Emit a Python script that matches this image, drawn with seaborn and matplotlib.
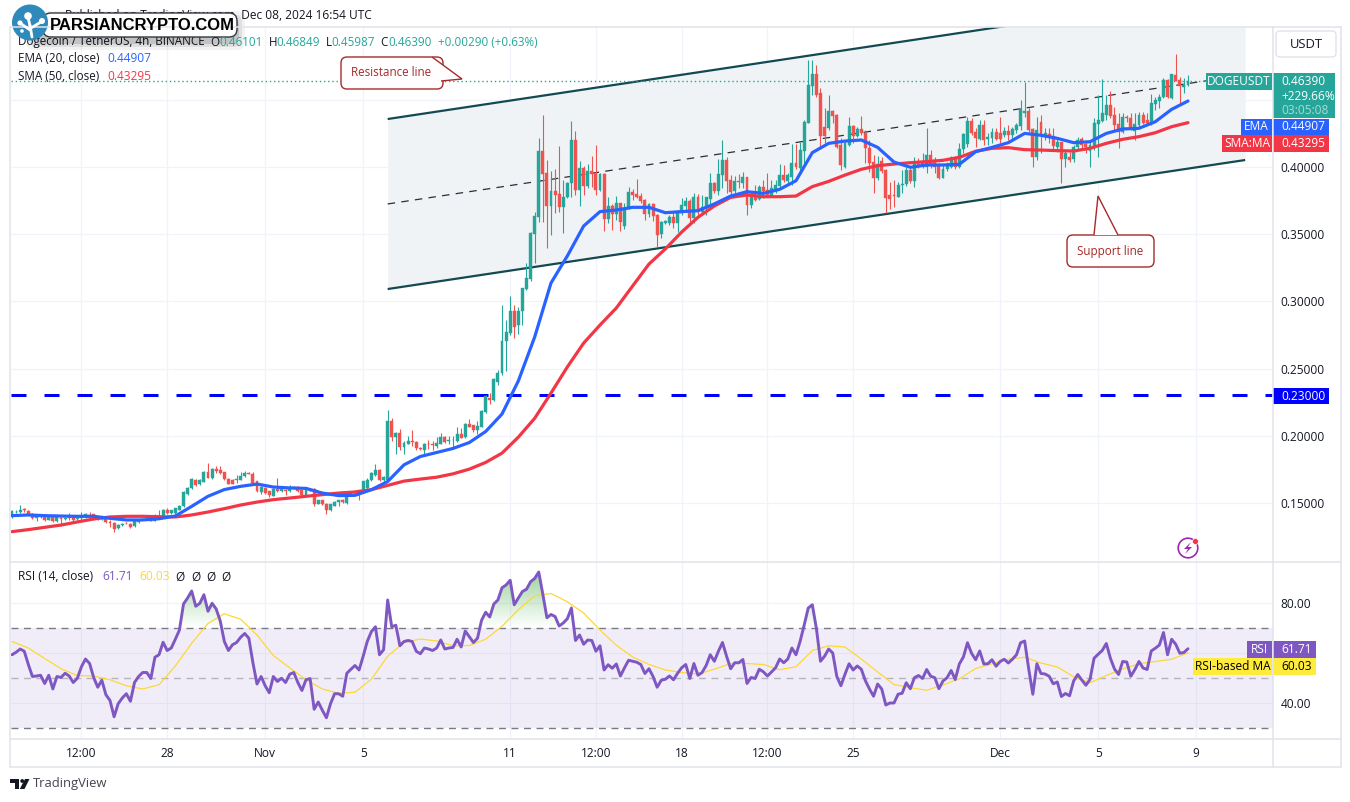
import numpy as np
import pandas as pd
import seaborn as sns
import matplotlib.pyplot as plt
from matplotlib.patches import Circle, FancyBboxPatch, PathPatch, Polygon, Rectangle
from matplotlib.path import Path

# candles, in thousandths of a USDT, one every 4h from 2024-10-21 16:00
opens_milli = [
    139.3, 143.1, 143.1, 145.5, 144.0, 142.1, 138.6, 139.6, 139.3, 137.6,
    140.1, 136.4, 138.8, 138.1, 139.6, 139.6, 138.1, 138.6, 139.6, 141.3,
    141.6, 139.6, 138.1, 139.1, 136.1, 135.1, 131.2, 133.6, 135.1, 134.6,
    132.6, 135.6, 137.4, 137.6, 136.9, 136.9, 140.1, 140.6, 144.5, 142.6,
    142.6, 145.0, 147.5, 156.9, 160.9, 166.9, 163.9, 165.9, 172.8, 168.6,
    175.3, 174.8, 172.8, 168.1, 167.4, 166.9, 167.4, 169.8, 172.6, 171.3,
    166.1, 157.9, 161.2, 158.7, 155.5, 160.4, 158.7, 159.9, 158.7, 160.9,
    161.9, 159.4, 156.2, 159.9, 160.4, 149.5, 152.0, 149.5, 144.5, 148.0,
    151.0, 152.5, 150.0, 158.4, 158.7, 159.4, 157.9, 160.9, 166.9, 170.8,
    174.8, 166.9, 167.3, 210.9, 198.8, 202.0, 191.3, 194.0, 196.0, 195.5,
    191.1, 189.6, 194.0, 194.0, 192.6, 194.0, 199.0, 196.5, 196.8, 196.0,
    201.5, 198.8, 208.9, 207.7, 204.5, 206.9, 217.9, 228.0, 226.3, 240.4,
    246.6, 270.2, 276.4, 293.0, 282.1, 292.5, 309.6, 317.0, 350.2, 363.0,
    411.9, 395.3, 371.0, 382.4, 379.7, 370.0, 377.4, 387.8, 420.1, 382.9,
    399.0, 385.9, 397.3, 395.8, 382.9, 394.8, 361.3, 371.0, 365.0, 373.0,
    356.1, 369.2, 381.2, 379.9, 378.4, 375.4, 365.0, 372.5, 364.3, 350.2,
    358.1, 358.6, 363.0, 358.1, 365.5, 371.0, 374.7, 361.8, 377.4, 366.3,
    370.0, 375.9, 388.3, 382.4, 393.8, 405.2, 390.3, 381.9, 389.6, 387.8,
    392.3, 371.7, 377.4, 376.0, 384.9, 382.9, 378.7, 383.4, 385.9, 394.0,
    389.8, 392.8, 402.7, 399.0, 412.2, 433.0, 460.3, 469.2, 454.8, 429.5,
    428.8, 441.9, 438.7, 416.4, 400.2, 416.4, 430.5, 423.1, 428.3, 425.5,
    413.9, 404.0, 391.6, 404.7, 397.8, 379.2, 379.2, 377.9, 386.9, 387.1,
    397.8, 389.8, 402.2, 401.5, 400.2, 408.7, 405.2, 401.5, 392.1, 398.3,
    400.2, 406.4, 400.2, 413.1, 417.1, 434.2, 426.3, 420.6, 431.2, 421.1,
    421.3, 425.8, 425.0, 423.8, 426.8, 423.8, 427.5, 430.5, 439.9, 441.7,
    428.3, 407.2, 433.7, 422.6, 424.6, 423.1, 415.1, 418.4, 405.7, 407.7,
    405.7, 414.6, 420.6, 417.1, 412.2, 415.1, 432.0, 434.5, 438.7, 446.1,
    438.7, 432.0, 426.3, 437.0, 436.2, 427.0, 431.2, 438.7, 435.0, 432.0,
    446.9, 449.4, 451.8, 464.7, 451.1, 468.4, 464.7, 459.8, 461.0,
]
highs_milli = [
    144.5, 145.0, 148.5, 146.5, 144.5, 142.6, 141.6, 141.1, 140.1, 140.6,
    140.6, 140.1, 139.6, 139.6, 142.6, 141.1, 139.6, 143.6, 142.6, 143.6,
    142.1, 140.1, 139.6, 139.6, 137.6, 135.6, 134.1, 135.1, 135.6, 135.1,
    138.1, 138.1, 138.6, 138.4, 138.6, 141.6, 144.5, 145.5, 146.5, 145.0,
    146.5, 148.5, 159.0, 162.0, 168.4, 168.0, 167.9, 173.6, 179.8, 176.0,
    177.3, 177.8, 173.3, 168.4, 167.9, 171.1, 173.1, 173.6, 173.1, 172.8,
    166.4, 162.4, 161.9, 159.2, 160.9, 168.8, 162.9, 160.4, 163.4, 162.4,
    162.4, 159.9, 160.9, 161.1, 160.9, 152.5, 152.5, 150.0, 149.5, 151.5,
    152.5, 153.0, 158.4, 159.0, 159.2, 159.9, 166.6, 168.4, 172.8, 179.3,
    175.3, 170.3, 219.3, 213.1, 203.2, 205.0, 195.8, 200.0, 204.5, 196.0,
    191.6, 195.0, 197.0, 195.8, 199.0, 202.0, 199.5, 199.5, 199.5, 206.4,
    205.7, 209.9, 212.4, 208.2, 210.9, 219.3, 230.5, 231.7, 242.9, 249.1,
    297.2, 286.3, 303.7, 297.5, 295.5, 310.1, 328.5, 352.0, 366.8, 421.3,
    438.7, 405.2, 397.0, 398.5, 415.6, 390.3, 388.8, 434.2, 426.5, 404.5,
    401.0, 402.0, 408.2, 416.4, 395.8, 395.3, 377.4, 372.5, 378.4, 373.5,
    373.5, 385.4, 383.4, 390.8, 380.9, 375.9, 373.5, 373.0, 364.8, 360.1,
    360.6, 364.3, 366.8, 368.0, 376.7, 377.4, 375.9, 380.4, 379.9, 379.2,
    377.9, 395.3, 389.1, 406.0, 420.1, 407.7, 394.0, 393.3, 394.8, 396.5,
    392.8, 380.4, 386.6, 386.6, 390.3, 395.3, 390.3, 390.3, 402.2, 401.5,
    395.3, 417.1, 417.1, 418.8, 435.0, 479.6, 479.6, 475.9, 458.5, 443.6,
    453.6, 442.4, 439.2, 421.3, 420.1, 437.4, 431.0, 430.0, 437.9, 427.5,
    420.1, 408.9, 408.2, 407.7, 398.3, 389.1, 390.3, 389.1, 397.8, 400.2,
    399.0, 407.7, 406.4, 410.2, 428.8, 412.6, 407.7, 402.7, 401.5, 404.0,
    408.2, 408.2, 417.6, 425.0, 437.4, 436.7, 428.8, 435.0, 435.0, 425.0,
    428.8, 428.8, 437.4, 430.0, 431.2, 429.5, 433.0, 449.8, 463.5, 443.6,
    428.8, 437.4, 438.7, 428.8, 428.8, 428.8, 421.3, 418.8, 412.6, 411.4,
    416.4, 422.1, 422.6, 418.8, 420.1, 436.2, 453.6, 465.2, 453.6, 456.8,
    444.9, 439.9, 439.9, 438.7, 440.4, 439.9, 441.2, 441.2, 440.4, 454.3,
    452.3, 454.3, 466.0, 465.2, 469.2, 484.1, 467.2, 466.0, 468.5,
]
lows_milli = [
    138.6, 142.6, 142.6, 143.6, 140.8, 138.0, 136.4, 139.1, 136.9, 137.1,
    136.0, 136.0, 133.1, 137.6, 137.6, 136.4, 137.1, 137.6, 138.8, 139.6,
    138.1, 137.6, 137.6, 135.1, 132.1, 128.2, 130.7, 133.1, 134.6, 131.6,
    132.1, 135.1, 137.1, 137.4, 136.4, 136.4, 138.6, 140.1, 142.1, 142.1,
    142.1, 144.5, 147.0, 156.0, 160.4, 163.0, 163.4, 165.4, 168.4, 168.1,
    172.3, 171.8, 167.4, 163.9, 163.9, 164.9, 166.9, 169.3, 171.3, 164.4,
    158.2, 156.4, 156.9, 154.5, 155.0, 158.4, 157.9, 156.2, 158.4, 160.4,
    158.2, 155.7, 155.7, 158.7, 148.0, 149.0, 148.5, 142.1, 144.0, 147.5,
    148.0, 150.0, 149.5, 156.4, 156.9, 152.0, 157.4, 160.4, 166.4, 170.3,
    166.4, 166.4, 167.0, 195.8, 186.6, 189.1, 186.6, 193.6, 192.6, 189.6,
    189.6, 185.1, 190.1, 189.6, 190.6, 193.6, 195.0, 194.0, 190.8, 195.5,
    198.0, 198.3, 206.4, 203.2, 201.0, 206.4, 216.9, 223.8, 225.8, 237.9,
    244.9, 247.9, 275.1, 272.7, 275.9, 282.6, 308.6, 315.0, 328.3, 359.3,
    359.3, 339.5, 349.4, 365.5, 366.8, 351.1, 376.9, 377.9, 379.2, 371.0,
    379.2, 384.1, 385.4, 379.2, 382.4, 352.6, 358.1, 353.1, 360.6, 352.6,
    353.6, 368.8, 375.4, 376.7, 373.5, 360.6, 363.0, 360.1, 340.2, 347.4,
    357.6, 356.8, 354.4, 351.9, 364.3, 366.8, 359.3, 358.6, 364.3, 364.3,
    364.3, 370.5, 380.9, 379.2, 384.1, 380.4, 379.2, 380.4, 384.1, 384.1,
    364.3, 369.2, 374.9, 375.4, 376.7, 377.4, 377.9, 380.9, 385.4, 389.1,
    387.8, 386.6, 398.3, 395.3, 402.7, 432.5, 453.6, 452.3, 413.9, 417.6,
    427.5, 432.5, 414.4, 397.8, 399.0, 415.9, 417.6, 422.1, 423.8, 402.7,
    396.5, 380.4, 390.3, 395.3, 365.5, 368.5, 370.5, 377.4, 380.4, 385.9,
    388.3, 385.4, 399.0, 399.0, 395.8, 399.0, 395.3, 390.8, 391.6, 397.3,
    399.0, 398.3, 399.0, 410.2, 415.1, 423.8, 415.1, 420.1, 416.4, 416.4,
    417.6, 420.1, 417.6, 422.6, 420.1, 420.6, 425.5, 427.5, 437.4, 426.3,
    400.2, 405.2, 410.7, 420.1, 417.6, 412.6, 411.4, 388.3, 399.8, 404.0,
    404.0, 412.6, 412.6, 410.2, 400.2, 412.6, 407.2, 433.7, 435.0, 436.2,
    426.3, 413.9, 425.0, 433.7, 427.5, 420.1, 430.0, 432.0, 432.0, 431.2,
    442.4, 443.6, 451.1, 451.3, 450.6, 463.7, 446.1, 454.8, 459.9,
]
closes_milli = [
    143.8, 143.6, 145.0, 144.5, 141.1, 138.6, 140.1, 140.6, 137.6, 140.1,
    136.4, 139.6, 138.1, 139.1, 138.8, 137.6, 138.8, 140.6, 141.6, 140.1,
    138.6, 138.1, 139.1, 135.6, 135.1, 130.7, 133.6, 134.6, 134.9, 132.1,
    137.6, 137.6, 138.1, 138.1, 138.1, 140.6, 138.8, 144.5, 142.6, 144.5,
    146.0, 148.0, 158.4, 161.4, 167.9, 163.4, 166.9, 173.1, 168.8, 175.5,
    173.8, 172.3, 167.9, 164.4, 164.4, 167.9, 170.3, 172.3, 171.8, 164.9,
    158.7, 161.9, 157.4, 156.2, 160.4, 158.7, 160.4, 158.9, 161.9, 161.9,
    158.7, 156.2, 160.4, 159.2, 149.5, 152.0, 149.0, 145.0, 149.0, 151.0,
    152.0, 150.5, 157.9, 156.9, 157.4, 157.9, 166.1, 167.4, 172.3, 174.8,
    166.9, 169.3, 210.9, 198.8, 202.0, 191.3, 194.5, 196.0, 195.5, 190.6,
    190.1, 194.0, 193.6, 193.1, 194.8, 199.0, 195.5, 197.0, 197.0, 201.5,
    198.5, 208.9, 206.9, 204.5, 207.4, 218.6, 229.8, 226.3, 242.4, 246.6,
    270.7, 277.1, 293.0, 281.3, 293.0, 310.1, 317.6, 351.1, 363.5, 411.9,
    394.8, 371.0, 382.4, 379.2, 370.0, 377.9, 388.3, 420.1, 382.9, 399.0,
    385.9, 397.3, 394.8, 382.9, 394.8, 361.3, 371.0, 365.0, 373.0, 359.3,
    369.2, 381.2, 379.2, 377.4, 374.7, 365.0, 372.5, 363.5, 349.4, 359.3,
    360.1, 363.0, 358.1, 367.5, 371.7, 375.0, 361.8, 377.4, 366.3, 370.5,
    377.4, 388.3, 381.9, 394.8, 405.2, 389.6, 381.6, 389.6, 389.1, 392.3,
    371.7, 377.4, 375.4, 384.9, 382.4, 378.4, 384.1, 386.6, 394.0, 390.3,
    394.0, 402.7, 399.8, 412.6, 433.7, 461.0, 469.2, 453.6, 423.1, 423.1,
    441.9, 438.2, 414.6, 401.5, 418.1, 430.5, 423.1, 428.3, 425.5, 413.9,
    402.7, 391.6, 402.0, 397.3, 376.7, 376.2, 378.7, 386.6, 387.4, 397.8,
    389.8, 402.2, 400.2, 404.0, 408.7, 402.2, 399.8, 391.6, 398.3, 400.7,
    406.4, 400.2, 413.4, 424.6, 434.2, 425.0, 421.3, 431.2, 420.1, 422.1,
    425.8, 420.6, 420.6, 426.8, 423.8, 428.3, 431.2, 442.9, 441.7, 427.5,
    407.7, 427.5, 423.1, 425.0, 423.1, 415.6, 418.8, 405.7, 410.7, 405.2,
    415.1, 420.1, 416.4, 415.1, 416.4, 432.5, 435.0, 439.9, 446.1, 437.9,
    431.2, 426.3, 437.0, 436.2, 429.5, 432.0, 438.7, 433.0, 432.5, 447.4,
    449.8, 452.3, 464.7, 451.8, 468.9, 464.2, 460.3, 461.0, 463.9,
]

# moving averages and the RSI average, read every 4th candle
ema_milli = [
    140.6, 141.1, 140.6, 140.3, 140.1, 140.1, 138.6, 137.4, 137.4, 138.3,
    140.3, 147.5, 155.0, 160.0, 162.4, 164.1, 161.9, 161.2, 160.9, 157.4,
    155.5, 155.7, 159.9, 166.0, 178.4, 184.6, 187.6, 190.6, 195.0, 203.2,
    216.2, 240.8, 273.5, 313.7, 333.8, 356.1, 366.8, 368.0, 370.0, 370.0,
    366.0, 366.8, 367.5, 372.5, 378.4, 381.6, 380.4, 383.4, 389.8, 410.7,
    417.6, 419.3, 420.1, 414.6, 403.7, 399.8, 401.5, 401.5, 402.0, 411.4,
    414.6, 418.1, 425.0, 423.6, 421.3, 418.1, 418.8, 425.0, 428.3, 428.8,
    433.7, 442.9, 449.1,
]
sma_milli = [
    128.7, 130.2, 131.9, 133.6, 135.9, 138.1, 139.6, 140.1, 140.1, 139.8,
    139.6, 141.1, 143.3, 145.8, 148.5, 150.7, 152.5, 153.7, 155.0, 156.2,
    157.4, 158.2, 159.9, 163.1, 166.3, 167.8, 169.2, 171.7, 175.2, 180.2,
    187.1, 199.0, 213.0, 231.8, 251.2, 269.0, 282.4, 295.1, 311.5, 327.8,
    339.0, 351.6, 362.6, 371.0, 377.4, 379.2, 377.9, 377.9, 378.4, 385.4,
    389.3, 394.0, 398.3, 401.0, 402.2, 403.2, 404.0, 405.0, 407.2, 411.7,
    413.9, 414.4, 412.9, 412.6, 412.2, 411.9, 413.9, 417.6, 420.6, 422.6,
    425.5, 430.0, 433.0,
]
rsi_ma_values = [
    64.6, 62.0, 57.8, 53.7, 51.0, 50.8, 49.3, 46.9, 45.6, 47.3,
    54.8, 63.9, 71.8, 75.7, 73.5, 67.2, 59.0, 54.1, 49.3, 45.6,
    43.9, 44.3, 49.5, 58.7, 64.2, 65.6, 64.8, 62.9, 63.0, 65.5,
    70.7, 77.3, 82.9, 83.8, 80.5, 76.0, 69.2, 63.1, 58.4, 55.4,
    53.2, 52.2, 51.6, 53.5, 55.8, 55.8, 55.4, 53.3, 54.5, 61.0,
    62.9, 62.4, 57.6, 52.4, 47.4, 46.1, 45.1, 47.2, 49.7, 53.8,
    55.7, 57.5, 58.3, 56.0, 54.4, 50.5, 48.1, 51.0, 53.6, 55.7,
    56.6, 57.5, 60.03,
]
rsi_values = [
    59.3, 60.3, 61.6, 60.7, 55.4, 50.6, 50.8, 51.1, 47.8, 51.1,
    45.6, 50.6, 50.2, 51.9, 50.8, 48.2, 49.9, 54.5, 57.6, 55.8,
    50.2, 46.3, 49.1, 43.3, 41.0, 34.5, 39.7, 42.0, 43.7, 40.7,
    48.2, 50.6, 52.2, 52.2, 49.8, 58.3, 59.3, 64.3, 61.0, 62.0,
    65.5, 69.2, 79.6, 82.0, 84.8, 78.7, 79.9, 83.3, 76.7, 79.9,
    77.6, 72.8, 64.6, 61.0, 63.3, 64.2, 66.3, 67.8, 65.9, 56.1,
    47.6, 50.6, 46.9, 44.1, 50.6, 48.6, 49.9, 48.2, 51.5, 52.2,
    48.2, 45.0, 49.3, 49.8, 37.5, 40.4, 37.1, 34.1, 39.7, 43.7,
    43.7, 42.7, 51.9, 53.5, 55.0, 53.2, 58.7, 64.6, 68.5, 70.5,
    59.3, 61.3, 81.2, 70.5, 71.1, 62.9, 64.6, 65.0, 64.6, 60.7,
    59.7, 62.0, 61.6, 61.0, 62.0, 65.2, 61.6, 62.0, 62.2, 65.5,
    62.4, 68.8, 66.5, 64.2, 65.9, 73.1, 76.3, 74.4, 79.6, 81.2,
    86.1, 87.2, 89.1, 79.3, 82.0, 84.6, 85.5, 88.5, 89.8, 92.4,
    83.5, 74.1, 75.4, 74.6, 70.8, 72.0, 73.7, 78.0, 65.0, 67.2,
    63.5, 65.2, 65.0, 60.7, 62.9, 53.2, 55.3, 53.9, 55.6, 50.8,
    54.1, 57.1, 56.7, 56.3, 55.4, 51.8, 53.7, 50.6, 46.3, 49.1,
    49.5, 50.8, 49.3, 51.9, 54.1, 55.4, 49.8, 55.8, 51.1, 52.2,
    55.0, 59.3, 56.7, 60.7, 64.2, 58.7, 53.7, 56.1, 56.1, 57.4,
    47.8, 50.2, 49.8, 53.5, 52.5, 50.8, 52.4, 54.1, 57.6, 56.1,
    57.6, 62.0, 59.3, 64.6, 71.1, 78.0, 79.3, 69.8, 56.7, 58.7,
    61.6, 60.0, 50.6, 46.9, 51.5, 55.7, 53.2, 54.8, 53.5, 48.9,
    45.6, 42.7, 47.6, 45.6, 39.2, 40.0, 40.0, 43.5, 43.9, 48.1,
    45.7, 50.1, 51.0, 49.8, 53.4, 50.7, 50.1, 45.7, 48.8, 50.1,
    53.0, 49.4, 55.6, 58.4, 64.1, 59.9, 57.3, 60.8, 55.6, 55.7,
    57.3, 54.7, 56.6, 57.5, 56.0, 57.5, 59.3, 64.1, 64.8, 53.6,
    43.5, 55.7, 51.8, 51.6, 50.7, 47.7, 48.4, 42.6, 43.8, 42.9,
    48.8, 51.4, 49.2, 47.1, 49.4, 57.9, 59.5, 61.0, 63.8, 57.9,
    53.6, 51.4, 56.6, 56.4, 50.7, 53.4, 56.6, 54.0, 53.4, 60.8,
    61.9, 63.2, 68.2, 59.3, 65.5, 63.5, 59.9, 60.2, 61.71,
]

tick_times = ['2024-10-24 12:00', '2024-10-28', '2024-11-01', '2024-11-05', '2024-11-11', '2024-11-14 12:00',
              '2024-11-18', '2024-11-21 12:00', '2024-11-25', '2024-12-01', '2024-12-05', '2024-12-09']
tick_labels = ['12:00', '28', 'Nov', '5', '11', '12:00', '18', '12:00', '25', 'Dec', '5', '9']
price_ticks = [0.15, 0.20, 0.25, 0.30, 0.35, 0.40, 0.45]
rsi_ticks = [40, 60, 80]

# channel drawn on the chart: start and end candle, then prices at both ends
channel_idx = [92, 302]
channel_upper = [0.4357, 0.5317]
channel_middle = [0.3725, 0.4685]
channel_lower = [0.3092, 0.4052]
support_level = 0.23

UP = '#26a69a'
DOWN = '#ef5350'
GRID = '#f0f3fa'
BORDER = '#e0e3eb'
INK = '#131722'
DARKRED = '#a52a2a'

sns.set_theme(style='white')
plt.rcParams['font.family'] = ['Open Sans', 'DejaVu Sans']
plt.rcParams['text.color'] = INK

opens = np.array(opens_milli) / 1000
highs = np.array(highs_milli) / 1000
lows = np.array(lows_milli) / 1000
closes = np.array(closes_milli) / 1000
idx = np.arange(len(closes))
ma_idx = idx[::4]
start = pd.Timestamp('2024-10-21 16:00')
tick_idx = (pd.to_datetime(tick_times, format='mixed') - start) / pd.Timedelta(hours=4)

W, H = 1350, 802


def px_axes(left, top, right, bottom):
    return fig.add_axes([left / W, 1 - bottom / H, (right - left) / W, (bottom - top) / H])


fig = plt.figure(figsize=(W / 100, H / 100), dpi=100, facecolor='white')
ax = px_axes(10.5, 27, 1272.5, 561)
ax_rsi = px_axes(10.5, 561.5, 1272.5, 739)

# price panel
ax.set_xlim(-0.37, 308.7)
ax.set_ylim(0.10685, 0.50417)
ax.set_xticks(tick_idx)
ax.set_xticklabels([])
ax.set_yticks(price_ticks)
ax.set_yticklabels(['%.5f' % p if p < 0.42 else '' for p in price_ticks], fontsize=8.6)
ax.yaxis.tick_right()
ax.grid(True, color=GRID, lw=0.9)
ax.set_axisbelow(True)
ax.tick_params(length=0, pad=6, colors=INK)
sns.despine(ax=ax, left=True, bottom=True)

ax.fill_between(channel_idx, channel_lower, channel_upper, color='#f0f3f5', lw=0, zorder=1)
ax.plot(channel_idx, channel_upper, color='#134a52', lw=1.6, zorder=2, solid_capstyle='butt')
ax.plot(channel_idx, channel_lower, color='#134a52', lw=1.6, zorder=2, solid_capstyle='butt')
ax.plot(channel_idx, channel_middle, color='#2a2e39', lw=0.9, ls=(0, (6, 5)), zorder=2)
ax.plot([-0.37, 308.7], [support_level, support_level], color='#0000ff', lw=2.16,
        ls=(0, (5, 6)), dash_capstyle='butt', zorder=2)
ax.plot([-0.37, 295], [closes[-1], closes[-1]], color=UP, lw=1, ls=(0, (1, 2)), zorder=2)

up = closes >= opens
colors = np.where(up, UP, DOWN)
ax.vlines(idx, lows, highs, colors=colors, lw=0.8, zorder=3)
ax.bar(idx, np.abs(closes - opens), bottom=np.minimum(opens, closes), width=0.72, color=colors,
       edgecolor=colors, lw=0.3, zorder=3)

sns.lineplot(x=ma_idx, y=np.array(sma_milli) / 1000, color='#f23645', lw=2.3, ax=ax, zorder=4, errorbar=None)
sns.lineplot(x=ma_idx, y=np.array(ema_milli) / 1000, color='#2962ff', lw=2.3, ax=ax, zorder=5, errorbar=None)
ax.set_xlabel('')
ax.set_ylabel('')

# rsi panel
rsi = np.array(rsi_values)
ax_rsi.set_xlim(-0.37, 308.7)
ax_rsi.set_ylim(25.6, 96.6)
ax_rsi.set_xticks(tick_idx)
ax_rsi.set_xticklabels(tick_labels, fontsize=8.6)
ax_rsi.set_yticks(rsi_ticks)
ax_rsi.set_yticklabels(['80.00' if v == 80 else '40.00' if v == 40 else '' for v in rsi_ticks], fontsize=8.6)
ax_rsi.yaxis.tick_right()
ax_rsi.grid(True, color=GRID, lw=0.9)
ax_rsi.set_axisbelow(True)
ax_rsi.tick_params(axis='y', length=0, pad=6, colors=INK)
ax_rsi.tick_params(axis='x', length=0, pad=6, colors=INK)
sns.despine(ax=ax_rsi, left=True, bottom=True)

ax_rsi.axhspan(30, 70, color='#7e57c2', alpha=0.1, lw=0, zorder=1)
ax_rsi.plot([-0.37, 308.7], [70, 70], color='#787b86', lw=1, ls=(0, (5, 4)), zorder=2)
ax_rsi.plot([-0.37, 308.7], [50, 50], color='#787b86', lw=1, ls=(0, (5, 4)), alpha=0.5, zorder=2)
ax_rsi.plot([-0.37, 308.7], [30, 30], color='#787b86', lw=1, ls=(0, (5, 4)), zorder=2)

# overbought area fades out towards the 70 level
over = ax_rsi.fill_between(idx, 70, rsi, where=rsi > 70, interpolate=True, color='none', lw=0)
over_path = Path.make_compound_path(*over.get_paths())
fade = np.zeros((64, 2, 4))
fade[..., :3] = (0.30, 0.69, 0.31)
fade[..., 3] = np.linspace(0.65, 0.0, 64)[:, None]
im = ax_rsi.imshow(fade, extent=(-0.37, 308.7, 70, 96.6), aspect='auto', origin='upper', zorder=2)
im.set_clip_path(PathPatch(over_path, transform=ax_rsi.transData))
ax_rsi.set_xlim(-0.37, 308.7)
ax_rsi.set_ylim(25.6, 96.6)

sns.lineplot(x=ma_idx, y=rsi_ma_values, color='#fdd835', lw=0.9, ax=ax_rsi, zorder=3, errorbar=None)
sns.lineplot(x=idx, y=rsi, color='#7e57c2', lw=2.1, ax=ax_rsi, zorder=4, errorbar=None)
ax_rsi.set_xlabel('')
ax_rsi.set_ylabel('')

# everything else sits on a full-figure layer in pixels
ov = fig.add_axes([0, 0, 1, 1], zorder=10)
ov.set_xlim(0, W)
ov.set_ylim(H, 0)
ov.axis('off')


def txt(x, y, s, color=INK, size=8.6, ha='left', **kw):
    ov.text(x, y, s, color=color, fontsize=size, ha=ha, va='center', **kw)


def box(x0, y0, x1, y1, color):
    ov.add_patch(Rectangle((x0, y0), x1 - x0, y1 - y0, color=color, lw=0))


# frame
for x in [10, 1272.5, 1340.5]:
    ov.plot([x, x], [26.5, 767], color=BORDER, lw=1.1)
for y in [26.5, 561.5, 739, 767]:
    ov.plot([10, 1340.5], [y, y], color=BORDER, lw=1.1)

# top text and legend, the logo covers part of the title
txt(372, 15, 'Published on TradingView.com, Dec 08, 2024 16:54 UTC', ha='right', size=8.6, zorder=0.5)
txt(18, 42, 'Dogecoin / TetherUS, 4h, BINANCE', size=8.4, zorder=0.5)
for x, s in [(210.5, 'O'), (268.6, 'H'), (326, 'L'), (380.5, 'C')]:
    txt(x, 42, s, size=8.4)
for x, s in [(219.5, '0.46101'), (276, '0.46849'), (331.5, '0.45987'), (388, '0.46390'),
             (437.5, '+0.00290 (+0.63%)')]:
    txt(x, 42, s, color=UP, size=8.4)
txt(18, 59, 'EMA (20, close)', size=8.4)
txt(107.5, 59, '0.44907', color='#2962ff')
txt(18, 76, 'SMA (50, close)', size=8.4)
txt(107.5, 76, '0.43295', color='#f23645')

# logo
for grow, alpha in [(9, 0.05), (6, 0.08), (3, 0.12)]:
    ov.add_patch(FancyBboxPatch((35 - grow, 16 - grow + 4), 201 + 2 * grow, 21 + 2 * grow,
                                boxstyle='round,pad=0,rounding_size=9', fc='black', ec='none', alpha=alpha))
ov.add_patch(FancyBboxPatch((43, 13), 194, 24, boxstyle='round,pad=0,rounding_size=8', fc='white', ec='#33383f', lw=1))
ov.add_patch(Circle((30, 22.5), 18, fc='#2f8abb', ec='none'))
for x0, y0, x1, y1 in [(32, 37, 30, 25), (30, 30, 20, 23), (31, 28, 41, 22), (30, 26, 28, 17)]:
    ov.plot([x0, x1], [y0, y1], color='white', lw=2, solid_capstyle='round')
for cx, cy, r in [(28, 16, 3.8), (20, 23, 2.6), (42, 21, 3), (22, 31, 1.8)]:
    ov.add_patch(Circle((cx, cy), r, fc='white', ec='none'))
txt(50, 26, 'PARSIANCRYPTO.COM', color='black', size=12, fontweight='bold', family='Liberation Sans')

# callouts
ov.add_patch(FancyBboxPatch((341, 57), 102, 32, boxstyle='round,pad=0,rounding_size=6', fc='#fffdfd', ec=DARKRED, lw=1))
ov.add_patch(Polygon([(432, 57), (462, 79), (441, 81)], closed=False, fc='#fffdfd', ec=DARKRED, lw=1))
txt(351, 72, 'Resistance line', color=DARKRED, size=8.4)
ov.add_patch(FancyBboxPatch((1067, 235), 87, 32, boxstyle='round,pad=0,rounding_size=6', fc='#fffdfd', ec=DARKRED, lw=1))
ov.add_patch(Polygon([(1094, 235), (1098, 196), (1118, 235)], closed=False, fc='#fffdfd', ec=DARKRED, lw=1))
txt(1077, 251, 'Support line', color=DARKRED, size=8.4)

# price scale labels
ov.add_patch(FancyBboxPatch((1276, 31), 60, 26, boxstyle='round,pad=0,rounding_size=4', fc='white', ec=BORDER, lw=1))
txt(1306, 44, 'USDT', ha='center', size=9.4)
box(1206, 73, 1272, 90, UP)
txt(1239, 81.5, 'DOGEUSDT', color='white', ha='center')
box(1273, 73, 1335, 118, UP)
txt(1281, 81.5, '0.46390', color='white')
txt(1281, 96, '+229.66%', color='white')
txt(1281, 110, '03:05:08', color='#a8dbd5')
box(1241, 119, 1272, 135, '#2962ff')
txt(1256, 127, 'EMA', color='white', ha='center')
box(1273, 119, 1329, 135, '#2962ff')
txt(1281, 127, '0.44907', color='white')
box(1222, 135, 1272, 152, '#f23645')
txt(1247, 143.5, 'SMA:MA', color='white', ha='center')
box(1273, 135, 1329, 152, '#f23645')
txt(1281, 143.5, '0.43295', color='white')
box(1273, 388, 1329, 404, '#0000ff')
txt(1281, 396, '0.23000', color='white')

# rsi legend and labels
txt(18, 577, 'RSI (14, close)')
txt(102, 577, '61.71', color='#7e57c2')
txt(139, 577, '60.03', color='#fdd835')
for x in [175, 191, 206, 221]:
    txt(x, 577, 'Ø')
box(1247, 641, 1272, 658, '#7e57c2')
txt(1259.5, 649.5, 'RSI', color='white', ha='center')
box(1273, 641, 1316, 658, '#7e57c2')
txt(1281, 649.5, '61.71', color='white')
box(1193, 658, 1272, 675, '#ffeb3b')
txt(1232.5, 666.5, 'RSI-based MA', color='black', ha='center')
box(1273, 658, 1316, 675, '#ffeb3b')
txt(1281, 666.5, '60.03', color='black')

# bolt badge
ov.add_patch(Circle((1188, 548), 9.8, fc='white', ec='#9c27b0', lw=1.2))
ov.add_patch(Polygon([(1191, 542), (1184, 549), (1188, 549), (1185, 554), (1192, 547), (1188, 547)],
                     fc='#9c27b0', ec='none'))
ov.add_patch(Circle((1195.5, 541.5), 3, fc='#f23645', ec='white', lw=0.5))

# footer
ov.add_patch(Rectangle((10, 779), 9, 3.6, color=INK, lw=0))
ov.add_patch(Rectangle((14.5, 779), 4.5, 10, color=INK, lw=0))
ov.add_patch(Circle((22.2, 781), 1.9, color=INK, lw=0))
ov.add_patch(Polygon([(25, 779), (29.5, 779), (24.5, 789), (19.8, 789)], color=INK, lw=0))
txt(33, 784, 'TradingView', color='#434651', size=9.4)

fig.savefig('out.png', dpi=100, facecolor='white')
